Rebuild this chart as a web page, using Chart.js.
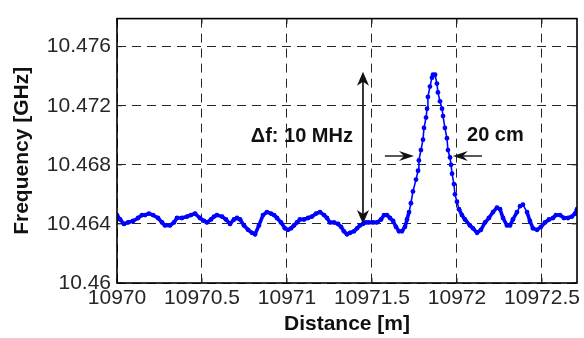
<!DOCTYPE html>
<html>
<head>
<meta charset="utf-8">
<script src="https://cdn.jsdelivr.net/npm/chart.js@4"></script>
<style>
  html, body { margin: 0; padding: 0; background: #fff; }
  #wrap { width: 584px; height: 338px; }
</style>
</head>
<body>
<div id="wrap"><canvas id="freqChart" width="584" height="338"></canvas></div>
<script>
// ── Data ──────────────────────────────────────────────────────────
const distance = [
  10970.000, 10970.018, 10970.041, 10970.065, 10970.094, 10970.124, 10970.147, 10970.165,
  10970.188, 10970.212, 10970.241, 10970.265, 10970.282, 10970.312, 10970.335, 10970.353,
  10970.382, 10970.412, 10970.435, 10970.459, 10970.488, 10970.512, 10970.529, 10970.553,
  10970.571, 10970.588, 10970.618, 10970.641, 10970.665, 10970.688, 10970.706, 10970.724,
  10970.747, 10970.771, 10970.794, 10970.812, 10970.835, 10970.859, 10970.882, 10970.906,
  10970.924, 10970.941, 10970.965, 10970.988, 10971.006, 10971.024, 10971.041, 10971.059,
  10971.076, 10971.100, 10971.124, 10971.147, 10971.171, 10971.194, 10971.218, 10971.235,
  10971.253, 10971.276, 10971.300, 10971.318, 10971.335, 10971.353, 10971.371, 10971.394,
  10971.412, 10971.429, 10971.447, 10971.465, 10971.482, 10971.506, 10971.529, 10971.553,
  10971.571, 10971.588, 10971.606, 10971.624, 10971.641, 10971.659, 10971.676, 10971.694,
  // peak
  10971.706, 10971.718, 10971.729, 10971.741, 10971.759, 10971.771, 10971.776, 10971.788,
  10971.800, 10971.806, 10971.818, 10971.824, 10971.829, 10971.841, 10971.853, 10971.859,
  10971.871, 10971.882, 10971.888, 10971.900, 10971.912, 10971.918, 10971.929, 10971.941,
  10971.947, 10971.959, 10971.965, 10971.971, 10971.982, 10971.988, 10972.000, 10972.012,
  10972.029, 10972.047, 10972.076, 10972.094,
  // right baseline
  10972.118, 10972.141, 10972.165, 10972.188, 10972.212, 10972.235, 10972.253, 10972.271,
  10972.294, 10972.312, 10972.329, 10972.353, 10972.371, 10972.388, 10972.412, 10972.429,
  10972.447, 10972.471, 10972.494, 10972.518, 10972.541, 10972.565, 10972.582, 10972.606,
  10972.629, 10972.653, 10972.676, 10972.694, 10972.706
];

const frequency = [
  10.4646, 10.4643, 10.4640, 10.4641, 10.4642, 10.4644, 10.4646, 10.4646,
  10.4647, 10.4646, 10.4644, 10.4641, 10.4639, 10.4639, 10.4641, 10.4644,
  10.4644, 10.4645, 10.4646, 10.4647, 10.4644, 10.4642, 10.4641, 10.4643,
  10.4645, 10.4646, 10.4645, 10.4643, 10.4640, 10.4643, 10.4644, 10.4643,
  10.4639, 10.4636, 10.4634, 10.4633, 10.4639, 10.4646, 10.4648, 10.4647,
  10.4646, 10.4644, 10.4641, 10.4637, 10.4636, 10.4637, 10.4639, 10.4641,
  10.4643, 10.4643, 10.4644, 10.4645, 10.4647, 10.4648, 10.4646, 10.4644,
  10.4641, 10.4641, 10.4640, 10.4638, 10.4635, 10.4633, 10.4634, 10.4635,
  10.4637, 10.4639, 10.4640, 10.4641, 10.4641, 10.4641, 10.4641, 10.4643,
  10.4646, 10.4646, 10.4644, 10.4642, 10.4638, 10.4635, 10.4635, 10.4638,
  // peak
  10.4643, 10.4648, 10.4654, 10.4662, 10.4670, 10.4676, 10.4683, 10.4690,
  10.4697, 10.4705, 10.4712, 10.4718, 10.4726, 10.4733, 10.4739, 10.4741,
  10.4741, 10.4735, 10.4729, 10.4723, 10.4718, 10.4713, 10.4705, 10.4698,
  10.4690, 10.4685, 10.4680, 10.4674, 10.4667, 10.4660, 10.4655, 10.4650,
  10.4646, 10.4643, 10.4639, 10.4637,
  // right baseline
  10.4634, 10.4636, 10.4641, 10.4644, 10.4648, 10.4651, 10.4650, 10.4644,
  10.4639, 10.4639, 10.4643, 10.4648, 10.4652, 10.4653, 10.4648, 10.4642,
  10.4637, 10.4636, 10.4638, 10.4641, 10.4643, 10.4644, 10.4646, 10.4646,
  10.4644, 10.4644, 10.4645, 10.4647, 10.4650
];

// axis ranges / ticks
const xMin = 10970, xMax = 10972.706, xStep = 0.5;
const yMin = 10.46, yMax = 10.4779, yStep = 0.004;

// annotations (data units)
const spanArrow  = { x: 10971.447, yTop: 10.4743, yBottom: 10.4640 };
const widthArrow = { y: 10.4686, leftFrom: 10971.576, leftTip: 10971.747,
                     rightFrom: 10972.147, rightTip: 10971.976 };
const spanLabel  = { text: 'Δf: 10 MHz', x: 10971.388, y: 10.4699 };
const widthLabel = { text: '20 cm', x: 10972.059, y: 10.4700 };

const FONT = "'Liberation Sans', Arial, sans-serif";

// ── Helpers ───────────────────────────────────────────────────────
function arrowHead(ctx, tipX, tipY, dx, dy, len, half, notch) {
  // dx,dy: unit vector pointing from tail to tip
  const px = -dy, py = dx;
  const bx = tipX - dx * len, by = tipY - dy * len;
  ctx.beginPath();
  ctx.moveTo(tipX, tipY);
  ctx.lineTo(bx + px * half, by + py * half);
  ctx.lineTo(tipX - dx * notch, tipY - dy * notch);
  ctx.lineTo(bx - px * half, by - py * half);
  ctx.closePath();
  ctx.fill();
}

const frame = {
  id: 'frame',
  afterDatasetsDraw(chart) {
    const { ctx, chartArea: a, scales: { x, y } } = chart;
    ctx.save();

    // inward ticks on all four sides
    ctx.strokeStyle = '#262626';
    ctx.lineWidth = 1;
    ctx.beginPath();
    x.ticks.forEach(t => {
      const px = x.getPixelForValue(t.value);
      ctx.moveTo(px, a.bottom); ctx.lineTo(px, a.bottom - 5);
      ctx.moveTo(px, a.top);    ctx.lineTo(px, a.top + 5);
    });
    y.ticks.forEach(t => {
      const py = y.getPixelForValue(t.value);
      ctx.moveTo(a.left, py);  ctx.lineTo(a.left + 5, py);
      ctx.moveTo(a.right, py); ctx.lineTo(a.right - 5, py);
    });
    ctx.stroke();

    // box
    ctx.strokeStyle = '#000';
    ctx.lineWidth = 1.6;
    ctx.strokeRect(a.left, a.top, a.right - a.left, a.bottom - a.top);

    // vertical double arrow (Δf)
    const vx = x.getPixelForValue(spanArrow.x);
    const vt = y.getPixelForValue(spanArrow.yTop);
    const vb = y.getPixelForValue(spanArrow.yBottom);
    ctx.strokeStyle = '#222';
    ctx.fillStyle = '#111';
    ctx.lineWidth = 1.8;
    ctx.beginPath();
    ctx.moveTo(vx, vt + 8); ctx.lineTo(vx, vb - 8);
    ctx.stroke();
    arrowHead(ctx, vx, vt, 0, -1, 14, 6, 10);
    arrowHead(ctx, vx, vb, 0, 1, 14, 6, 10);

    // horizontal width arrows
    const hy = y.getPixelForValue(widthArrow.y);
    const lf = x.getPixelForValue(widthArrow.leftFrom);
    const lt = x.getPixelForValue(widthArrow.leftTip);
    const rf = x.getPixelForValue(widthArrow.rightFrom);
    const rt = x.getPixelForValue(widthArrow.rightTip);
    ctx.lineWidth = 1.5;
    ctx.beginPath();
    ctx.moveTo(lf, hy); ctx.lineTo(lt - 8, hy);
    ctx.moveTo(rf, hy); ctx.lineTo(rt + 8, hy);
    ctx.stroke();
    arrowHead(ctx, lt, hy, 1, 0, 15, 5, 10);
    arrowHead(ctx, rt, hy, -1, 0, 15, 5, 10);

    // labels
    ctx.fillStyle = '#111';
    ctx.font = 'bold 20px ' + FONT;
    ctx.textBaseline = 'middle';
    ctx.textAlign = 'right';
    ctx.fillText(spanLabel.text, x.getPixelForValue(spanLabel.x), y.getPixelForValue(spanLabel.y));
    ctx.textAlign = 'left';
    ctx.fillText(widthLabel.text, x.getPixelForValue(widthLabel.x), y.getPixelForValue(widthLabel.y));

    ctx.restore();
  }
};

// ── Chart ─────────────────────────────────────────────────────────
const points = distance.map((d, i) => ({ x: d, y: frequency[i] }));

// dense markers merge into a thick band along the flat stretches
const segWidth = c => Math.max(c.p0.parsed.y, c.p1.parsed.y) < 10.4652 ? 3.6 : 1.6;

new Chart(document.getElementById('freqChart').getContext('2d'), {
  type: 'line',
  data: {
    datasets: [{
      data: points,
      borderColor: '#0000ff',
      backgroundColor: '#0000ff',
      borderWidth: 1.6,
      segment: { borderWidth: segWidth },
      pointRadius: 2.4,
      pointBorderWidth: 0,
      tension: 0,
      fill: false
    }]
  },
  options: {
    responsive: false,
    animation: false,
    layout: { padding: { top: 14, right: 7, left: 0, bottom: 0 } },
    plugins: { legend: { display: false }, tooltip: { enabled: false } },
    scales: {
      x: {
        type: 'linear',
        min: xMin, max: xMax,
        afterFit: s => { s.height = 55; },
        ticks: {
          stepSize: xStep, includeBounds: false, padding: 3,
          color: '#262626', font: { family: FONT, size: 21 },
          maxRotation: 0, autoSkip: false,
          callback: v => String(Number(v.toFixed(1)))
        },
        grid: { color: '#262626', lineWidth: 1, drawTicks: false, borderDash: [9, 6] },
        border: { display: false, dash: [9, 6] },
        title: {
          display: true, text: 'Distance [m]', color: '#111',
          font: { family: FONT, size: 21, weight: 'bold' },
          padding: { top: 0, bottom: 1 }
        }
      },
      y: {
        type: 'linear',
        min: yMin, max: yMax,
        afterFit: s => { s.width = 117; },
        ticks: {
          stepSize: yStep, includeBounds: false, padding: 6,
          color: '#262626', font: { family: FONT, size: 21 },
          callback: v => String(Number(v.toFixed(3)))
        },
        grid: { color: '#262626', lineWidth: 1, drawTicks: false, borderDash: [9, 6] },
        border: { display: false, dash: [9, 6] },
        title: {
          display: true, text: 'Frequency [GHz]', color: '#111',
          font: { family: FONT, size: 21, weight: 'bold' },
          padding: { top: 10, bottom: 0 }
        }
      }
    }
  },
  plugins: [frame]
});
</script>
</body>
</html>
